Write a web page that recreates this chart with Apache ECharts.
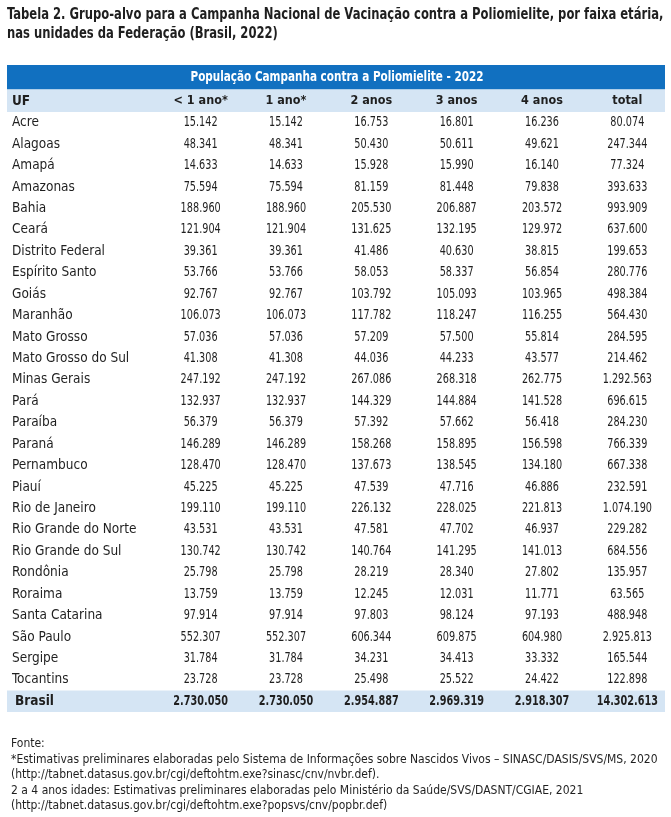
<!DOCTYPE html>
<html><head><meta charset="utf-8">
<script src="https://cdn.jsdelivr.net/npm/echarts@6/dist/echarts.min.js"></script>
<style>html,body{margin:0;padding:0;background:#fff}#c{width:671px;height:817px}</style>
</head><body><div id="c"></div>
<script>
const titleLines = ['Tabela 2. Grupo-alvo para a Campanha Nacional de Vacinação contra a Poliomielite, por faixa etária,', 'nas unidades da Federação (Brasil, 2022)'];
const bandTitle = 'População Campanha contra a Poliomielite - 2022';
const firstHeader = 'UF';
const columns = ['< 1 ano*', '1 ano*', '2 anos', '3 anos', '4 anos', 'total'];
const states = ['Acre','Alagoas','Amapá','Amazonas','Bahia','Ceará','Distrito Federal','Espírito Santo','Goiás','Maranhão','Mato Grosso','Mato Grosso do Sul','Minas Gerais','Pará','Paraíba','Paraná','Pernambuco','Piauí','Rio de Janeiro','Rio Grande do Norte','Rio Grande do Sul','Rondônia','Roraima','Santa Catarina','São Paulo','Sergipe','Tocantins'];
const lt1 = [15142,48341,14633,75594,188960,121904,39361,53766,92767,106073,57036,41308,247192,132937,56379,146289,128470,45225,199110,43531,130742,25798,13759,97914,552307,31784,23728];
const ano1 = [15142,48341,14633,75594,188960,121904,39361,53766,92767,106073,57036,41308,247192,132937,56379,146289,128470,45225,199110,43531,130742,25798,13759,97914,552307,31784,23728];
const anos2 = [16753,50430,15928,81159,205530,131625,41486,58053,103792,117782,57209,44036,267086,144329,57392,158268,137673,47539,226132,47581,140764,28219,12245,97803,606344,34231,25498];
const anos3 = [16801,50611,15990,81448,206887,132195,40630,58337,105093,118247,57500,44233,268318,144884,57662,158895,138545,47716,228025,47702,141295,28340,12031,98124,609875,34413,25522];
const anos4 = [16236,49621,16140,79838,203572,129972,38815,56854,103965,116255,55814,43577,262775,141528,56418,156598,134180,46886,221813,46937,141013,27802,11771,97193,604980,33332,24422];
const totals = [80074,247344,77324,393633,993909,637600,199653,280776,498384,564430,284595,214462,1292563,696615,284230,766339,667338,232591,1074190,229282,684556,135957,63565,488948,2925813,165544,122898];
const totalRowName = 'Brasil';
const totalRow = [2730050,2730050,2954887,2969319,2918307,14302613];
const footLines = ['Fonte:', '*Estimativas preliminares elaboradas pelo Sistema de Informações sobre Nascidos Vivos – SINASC/DASIS/SVS/MS, 2020', '(http://tabnet.datasus.gov.br/cgi/deftohtm.exe?sinasc/cnv/nvbr.def).', '2 a 4 anos idades: Estimativas preliminares elaboradas pelo Ministério da Saúde/SVS/DASNT/CGIAE, 2021', '(http://tabnet.datasus.gov.br/cgi/deftohtm.exe?popsvs/cnv/popbr.def)'];

const FONT = "'DejaVu Sans Condensed','Noto Sans',sans-serif";
const TXT = '#1f1f1f';
const BLUE = '#1170c0';
const LIGHT = '#d5e5f4';

function fmt(n){ return String(n).replace(/\B(?=(\d{3})+(?!\d))/g, '.'); }

const rows = states.concat([totalRowName]);
const colData = [lt1, ano1, anos2, anos3, anos4, totals];
const cells = [];
colData.forEach((arr, ci) => arr.forEach((v, ri) => cells.push([ci, ri, v, 0])));
totalRow.forEach((v, ci) => cells.push([ci, rows.length - 1, v, 1]));

const chart = echarts.init(document.getElementById('c'), null, {renderer: 'canvas'});
chart.setOption({
  animation: false,
  backgroundColor: '#fff',
  textStyle: {fontFamily: FONT},
  title: [
    {text: footLines.join('\n'), left: 6, top: 731, textStyle: {fontFamily: FONT, fontSize: 12, fontWeight: 'normal', color: TXT, lineHeight: 15.6}}
  ],
  graphic: [
    {type: 'text', x: 7, y: 5, scaleX: 0.805, style: {text: titleLines.join('\n'), font: "bold 16px " + FONT, fill: TXT, lineHeight: 19}},
    {type: 'rect', z: -10, shape: {x: 7, y: 65, width: 658, height: 24.5}, style: {fill: BLUE}},
    {type: 'rect', z: -10, shape: {x: 7, y: 89.5, width: 658, height: 22.5}, style: {fill: LIGHT}},
    {type: 'text', x: 337, y: 77.5, scaleX: 0.86, style: {text: bandTitle, font: "bold 13.5px " + FONT, fill: '#fff', align: 'center', verticalAlign: 'middle'}},
    {type: 'text', x: 12, y: 101, style: {text: firstHeader, font: "bold 13.5px " + FONT, fill: TXT, verticalAlign: 'middle'}}
  ],
  grid: {left: 158, right: 1, top: 112, bottom: 105},
  xAxis: {
    type: 'category', data: columns, position: 'top',
    axisLine: {show: false}, axisTick: {show: false}, splitLine: {show: false},
    axisLabel: {fontFamily: FONT, fontSize: 12.5, fontWeight: 'bold', color: TXT, margin: 11, verticalAlign: 'middle'}
  },
  yAxis: {
    type: 'category', data: rows, inverse: true,
    axisLine: {show: false}, axisTick: {show: false}, splitLine: {show: false},
    axisLabel: {
      fontFamily: FONT, fontSize: 13.5, color: TXT, align: 'left', margin: 146,
      formatter: v => v === totalRowName ? '{b|' + v + '}' : v,
      rich: {b: {fontFamily: FONT, fontSize: 13.5, fontWeight: 'bold', color: TXT, padding: [0, 0, 0, 3]}}
    }
  },
  series: [
    {
      type: 'custom', z: 0, silent: true, clip: false,
      data: [[0, rows.length - 1]],
      renderItem: (params, api) => {
        const c = api.coord([0, api.value(1)]);
        const h = api.size([0, 1])[1];
        return {type: 'rect', shape: {x: 7, y: c[1] - h / 2, width: 658, height: h}, style: {fill: LIGHT}};
      }
    },
    {
      type: 'custom', z: 5, silent: true, clip: false,
      data: cells,
      renderItem: (params, api) => {
        const c = api.coord([api.value(0), api.value(1)]);
        const bold = api.value(3) === 1;
        return {
          type: 'text', x: c[0], y: c[1], scaleX: 0.77,
          style: {text: fmt(api.value(2)), font: (bold ? 'bold ' : '') + '14px ' + FONT, fill: TXT, align: 'center', verticalAlign: 'middle'}
        };
      }
    }
  ]
});
</script></body></html>
